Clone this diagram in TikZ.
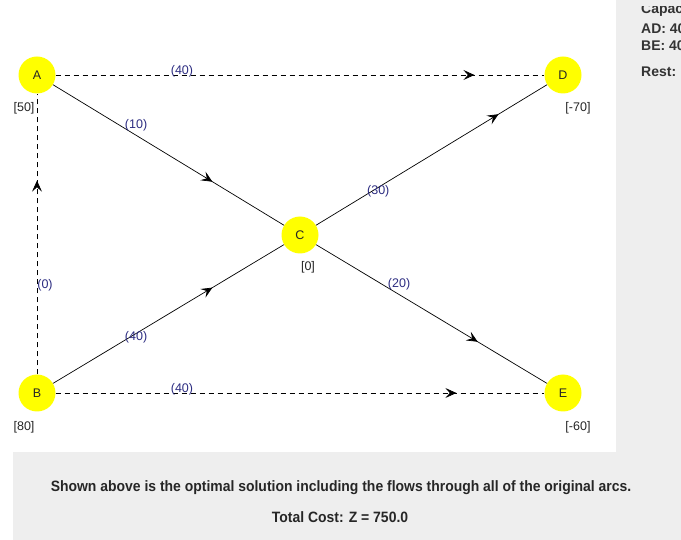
\documentclass[tikz,border=0pt]{standalone}
\usepackage{fontspec}
\setmainfont{Liberation Sans}
\usetikzlibrary{arrows.meta,decorations.markings}
\definecolor{nodeyellow}{RGB}{255,255,0}
\definecolor{flowblue}{RGB}{45,45,130}
\definecolor{panelgray}{RGB}{238,238,238}
\begin{document}
\begin{tikzpicture}[x=1pt,y=-1pt,
  vertex/.style={circle, fill=nodeyellow, minimum size=37pt, inner sep=0pt, text=black!85, font=\fontsize{12.5}{14}\selectfont},
  supply/.style={inner sep=0pt, text=black!85, font=\fontsize{12.5}{14}\selectfont},
  flow/.style={inner sep=0pt, anchor=base west, text=flowblue, font=\fontsize{12.5}{14}\selectfont},
  flowarc/.style={line width=0.7pt},
  dasharc/.style={line width=0.7pt, dash pattern=on 5pt off 4pt},
  midarrow/.style={postaction={decorate}, decoration={markings, mark=at position #1 with {\arrow{Stealth[length=11pt,width=10pt,inset=4.5pt]}}}},
  side/.style={inner sep=0pt, anchor=base west, text=black!80, font=\bfseries\fontsize{14}{16}\selectfont},
  note/.style={inner sep=0pt, text=black!85, font=\bfseries\fontsize{15}{18}\selectfont}]
\useasboundingbox (0,0) rectangle (681,540);
\fill[white] (0,0) rectangle (681,540);
\fill[panelgray] (616,0) rectangle (681,540);
\fill[panelgray] (13,452) rectangle (681,540);
% nodes
\node[vertex] (A) at (37,75) {A};
\node[vertex] (D) at (563,75) {D};
\node[vertex] (C) at (300,235) {C};
\node[vertex] (B) at (37,393) {B};
\node[vertex] (E) at (563,393) {E};
\node[supply] (sA) at (24,108) {[50]};
\node[supply] (sD) at (578,108) {[-70]};
\node[supply] (sC) at (308,267) {[0]};
\node[supply] (sB) at (24,427) {[80]};
\node[supply] (sE) at (578,427) {[-60]};
% arcs
\draw[dasharc, midarrow=0.857] (A) -- node[flow, pos=0.235] {(40)} (D);
\draw[dasharc, midarrow=0.82] (B) -- node[flow, pos=0.235] {(40)} (E);
\draw[dasharc, midarrow=0.69] (B) -- node[flow, pos=0.305] {(0)} (A);
\draw[flowarc, midarrow=0.69] (A) -- node[flow, pos=0.31] {(10)} (C);
\draw[flowarc, midarrow=0.69] (B) -- node[flow, pos=0.31] {(40)} (C);
\draw[flowarc, midarrow=0.79] (C) -- node[flow, pos=0.22] {(30)} (D);
\draw[flowarc, midarrow=0.70] (C) -- node[flow, pos=0.31] {(20)} (E);
% side panel
\begin{scope}
\clip (616,7) rectangle (681,540);
\node[side] (cap) at (641,14) {Capacities:};
\node[side] (capAD) at (641,34) {AD: 40};
\node[side] (capBE) at (641,51) {BE: 40};
\node[side] (rest) at (641,77) {Rest:};
\end{scope}
% bottom text
\node[note] (msg) at (341,488) {\scalebox{0.93}[1]{Shown above is the optimal solution including the flows through all of the original arcs.}};
\node[note] (cost) at (340,517) {\scalebox{0.93}[1]{Total Cost: Z = 750.0}};
\end{tikzpicture}
\end{document}
